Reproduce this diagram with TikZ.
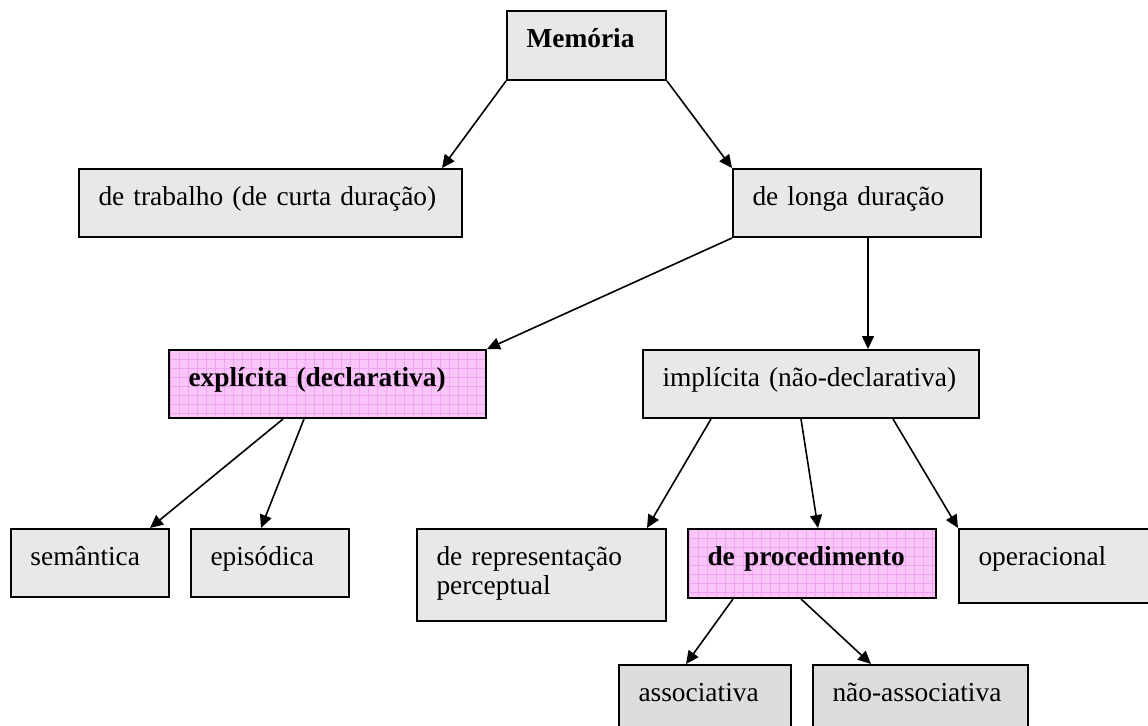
\documentclass[tikz,border=0pt]{standalone}
\usepackage{fontspec}
\setmainfont{Liberation Serif}
\usetikzlibrary{arrows.meta}
\definecolor{cinza}{HTML}{E8E8E8}
\definecolor{cinzaesc}{HTML}{DDDDDD}
\definecolor{rosa}{HTML}{FAC6FA}
\definecolor{rosagrade}{HTML}{F2A2F2}
\tikzset{%
  caixa/.style    = {draw, line width=1pt, fill=cinza, anchor=north west,%
                     inner xsep=9.75pt, inner ysep=0pt, align=left,%
                     text height=18.25pt, font=\fontsize{13.7}{14.5}\selectfont},%
  tam/.style 2 args = {text width=#1, text depth=#2},%
  destaque/.style = {caixa, fill=rosa,%
                     path picture={\draw[rosagrade, line width=0.4pt, step=4.5pt]%
                       (path picture bounding box.south west) grid (path picture bounding box.north east);}},%
  seta/.style     = {line width=0.8pt, -{Triangle[length=6.5pt, width=6pt]}}%
}
\begin{document}
\begin{tikzpicture}[x=0.5pt,y=-0.5pt]
	\useasboundingbox (0,0) rectangle (1148,725);
	\clip (0,0) rectangle (1148,725);
	% nivel 1 e 2
	\node[caixa, tam={60pt}{16.25pt}] (mem) at (506,10) {\textbf{Memória}};
	\node[caixa, tam={172pt}{15.75pt}] (trab) at (78,168) {de trabalho (de curta duração)};
	\node[caixa, tam={104.5pt}{15.75pt}] (longa) at (732,168) {de longa duração};
	% nivel 3
	\node[destaque, tam={139pt}{15.75pt}] (expl) at (168,349) {\textbf{explícita (declarativa)}};
	\node[caixa, tam={148.5pt}{15.75pt}] (impl) at (642,349) {implícita (não-declarativa)};
	% nivel 4
	\node[caixa, tam={59.5pt}{15.75pt}] (sem) at (10,528) {semântica};
	\node[caixa, tam={59.5pt}{15.75pt}] (epi) at (190,528) {episódica};
	\node[caixa, tam={105pt}{27.75pt}] (rep) at (416,528) {de representação\\perceptual};
	\node[destaque, tam={104.5pt}{16.25pt}] (proc) at (687,528) {\textbf{de procedimento}};
	\node[caixa, tam={90.5pt}{18.75pt}] (oper) at (958,528) {operacional};
	% nivel 5
	\node[caixa, fill=cinzaesc, tam={66.5pt}{21.75pt}] (assoc) at (618,664) {associativa};
	\node[caixa, fill=cinzaesc, tam={88pt}{21.75pt}] (nassoc) at (812,664) {não-associativa};

	\draw[seta] (mem.south west) -- ([xshift=-10.5pt]trab.north east);
	\draw[seta] (mem.south east) -- (longa.north west);
	\draw[seta] (longa.south west) -- (expl.north east);
	\draw[seta] ([xshift=5.5pt]longa.south) -- ([xshift=5.5pt]longa.south |- impl.north);
	\draw[seta] ([xshift=-22.25pt]expl.south) -- ([xshift=-10pt]sem.north east);
	\draw[seta] ([xshift=-11.75pt]expl.south) -- ([xshift=-4.5pt]epi.north);
	\draw[seta] ([xshift=-50pt]impl.south) -- ([xshift=-10pt]rep.north east);
	\draw[seta] ([xshift=-5pt]impl.south) -- ([xshift=3pt]proc.north);
	\draw[seta] ([xshift=41pt]impl.south) -- (oper.north west);
	\draw[seta] ([xshift=-39.5pt]proc.south) -- ([xshift=-9.5pt]assoc.north);
	\draw[seta] ([xshift=-5.5pt]proc.south) -- ([xshift=-24.75pt]nassoc.north);
\end{tikzpicture}
\end{document}
